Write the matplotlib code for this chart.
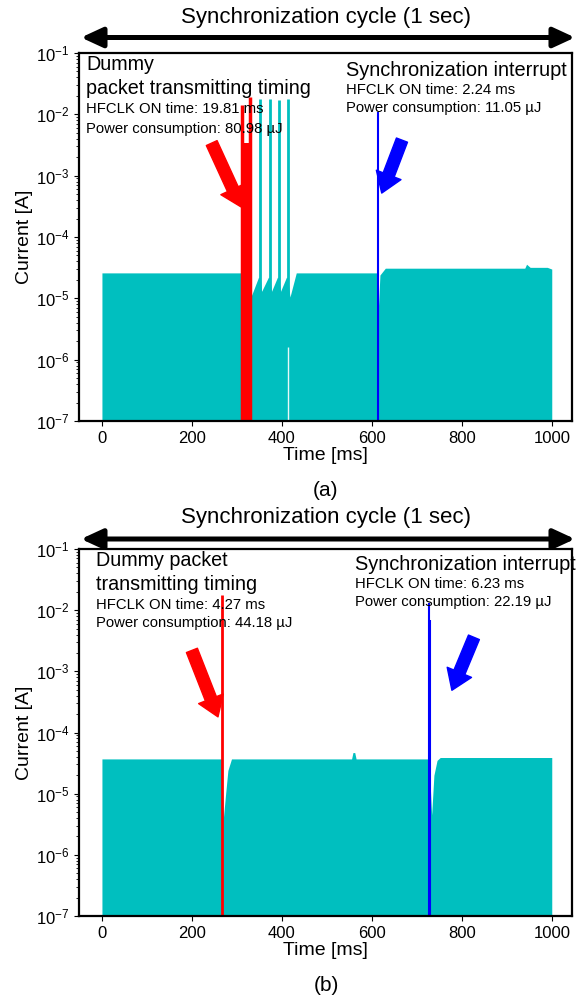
import matplotlib
matplotlib.use('Agg')
import matplotlib.pyplot as plt
from matplotlib.patches import FancyArrowPatch
from matplotlib.ticker import LogLocator, NullFormatter

plt.rcParams['font.family'] = ['Liberation Sans', 'DejaVu Sans']
plt.rcParams['mathtext.fontset'] = 'custom'
plt.rcParams['mathtext.rm'] = 'Liberation Sans'
plt.rcParams['mathtext.it'] = 'Liberation Sans:italic'

TEAL = '#00BFBF'
FLOOR = 1e-7
W, H = 576, 1005

# (a) current envelope (ms, A)
top_t = [0, 310, 331, 336, 348, 352, 355, 370, 373, 377, 390, 393, 397, 410, 413, 418,
         432, 611, 614, 618, 630, 940, 944, 952, 990, 1000]
top_i = [2.6e-5, 2.6e-5, 1.05e-5, 1.3e-5, 2.2e-5, 2.2e-5, 1.3e-5, 2.2e-5, 2.2e-5, 1.3e-5,
         2.2e-5, 2.2e-5, 1.3e-5, 2.2e-5, 2.2e-5, 1.05e-5, 2.6e-5, 2.6e-5, 5.7e-6, 2.4e-5,
         3.1e-5, 3.1e-5, 3.6e-5, 3.2e-5, 3.2e-5, 3.0e-5]
top_spike_t = [351, 374, 394, 414]
top_spike_i = [1.8e-2, 1.8e-2, 1.7e-2, 1.8e-2]
top_gap_t = [414]
top_gap_i = [1.6e-6]
top_red_band = [311, 331]
top_red_band_i = 3.4e-3
top_red_t = [312, 330]
top_red_i = [1.4e-2, 1.9e-2]
top_blue_t = [613]
top_blue_i = [1.1e-2]

# (b) current envelope
bot_t = [0, 266, 270, 275, 280, 288, 555, 558, 562, 565, 727, 733, 738, 745, 752, 1000]
bot_i = [3.7e-5, 3.7e-5, 4e-6, 1.0e-5, 2.4e-5, 3.7e-5, 3.7e-5, 4.7e-5, 4.7e-5, 3.7e-5,
         3.7e-5, 4.5e-6, 2.0e-5, 3.5e-5, 3.9e-5, 3.9e-5]
bot_red_t = [268]
bot_red_i = [1.8e-2]
bot_blue_t = [728, 730]
bot_blue_i = [1.3e-2, 7e-3]

fig = plt.figure(figsize=(5.76, 10.05), dpi=100)
ax1 = fig.add_axes([79 / W, 1 - 421 / H, 493 / W, 368 / H])
ax2 = fig.add_axes([79 / W, 1 - 916 / H, 493 / W, 367 / H])


def px(x, y, s, size):
    # place text by its centre height in reference pixel coords
    fig.text(x / W, 1 - y / H, s, fontsize=size, va='center')


def arrow(ax, tail, tip, color):
    ax.annotate('', xy=tip, xytext=tail,
                arrowprops=dict(arrowstyle='simple,head_length=1.4,head_width=1.9,tail_width=0.85',
                                mutation_scale=10, color=color, shrinkA=0, shrinkB=0))


def style(ax):
    ax.set_yscale('log')
    ax.set_ylim(1e-7, 1e-1)
    ax.set_xlim(-51, 1045)
    ax.set_xticks([0, 200, 400, 600, 800, 1000])
    ax.yaxis.set_major_locator(LogLocator(base=10, numticks=20))
    ax.yaxis.set_minor_locator(LogLocator(base=10, subs=range(2, 10), numticks=100))
    ax.yaxis.set_minor_formatter(NullFormatter())
    ax.tick_params(labelsize=12)
    ax.tick_params(which='minor', length=2.5)
    for s in ax.spines.values():
        s.set_linewidth(1.6)
    ax.set_xlabel('Time [ms]', fontsize=14, labelpad=1)
    ax.set_ylabel('Current [A]', fontsize=14, labelpad=2)


# panel (a)
ax1.fill_between(top_t, FLOOR, top_i, color=TEAL, lw=0)
ax1.vlines(top_spike_t, FLOOR, top_spike_i, color=TEAL, lw=2)
ax1.vlines(top_gap_t, FLOOR, top_gap_i, color='#E8F8F8', lw=1)
ax1.fill_between(top_red_band, FLOOR, top_red_band_i, color='red', lw=0)
ax1.vlines(top_red_t, FLOOR, top_red_i, color='red', lw=2.5)
ax1.vlines(top_blue_t, FLOOR, top_blue_i, color='blue', lw=1.5)
arrow(ax1, (244, 3.4e-3), (309, 3.1e-4), 'red')
arrow(ax1, (667, 3.8e-3), (622, 5.2e-4), 'blue')
style(ax1)
px(86, 65, 'Dummy', 14.2)
px(86, 89, 'packet transmitting timing', 14.2)
px(86, 109, 'HFCLK ON time: 19.81 ms', 10.7)
px(86, 129, 'Power consumption: 80.98 µJ', 10.7)
px(346, 71, 'Synchronization interrupt', 14.4)
px(346, 90, 'HFCLK ON time: 2.24 ms', 10.7)
px(346, 108, 'Power consumption: 11.05 µJ', 10.7)

# panel (b)
ax2.fill_between(bot_t, FLOOR, bot_i, color=TEAL, lw=0)
ax2.vlines(bot_red_t, FLOOR, bot_red_i, color='red', lw=2)
ax2.vlines(bot_blue_t, FLOOR, bot_blue_i, color='blue', lw=1.5)
arrow(ax2, (200, 2.2e-3), (258, 1.8e-4), 'red')
arrow(ax2, (827, 3.6e-3), (778, 4.9e-4), 'blue')
style(ax2)
px(96, 561, 'Dummy packet', 14.2)
px(96, 585, 'transmitting timing', 14.2)
px(96, 605, 'HFCLK ON time: 4.27 ms', 10.7)
px(96, 623, 'Power consumption: 44.18 µJ', 10.7)
px(355, 565, 'Synchronization interrupt', 14.4)
px(355, 584, 'HFCLK ON time: 6.23 ms', 10.7)
px(355, 602, 'Power consumption: 22.19 µJ', 10.7)

# synchronization cycle arrows and titles
for y_arrow, y_text in [(37.5, 18), (539, 517)]:
    fig.add_artist(FancyArrowPatch((81 / W, 1 - y_arrow / H), (575 / W, 1 - y_arrow / H),
                                   transform=fig.transFigure,
                                   arrowstyle='<|-|>,head_length=1.3,head_width=0.6',
                                   mutation_scale=10, lw=3.6, color='black',
                                   shrinkA=0, shrinkB=0))
    fig.text(326 / W, 1 - y_text / H, 'Synchronization cycle (1 sec)', fontsize=16,
             ha='center', va='center')

fig.text(326 / W, 1 - 490 / H, '(a)', fontsize=15, ha='center', va='center')
fig.text(326 / W, 1 - 985 / H, '(b)', fontsize=15, ha='center', va='center')

fig.savefig('out.png', dpi=100)
